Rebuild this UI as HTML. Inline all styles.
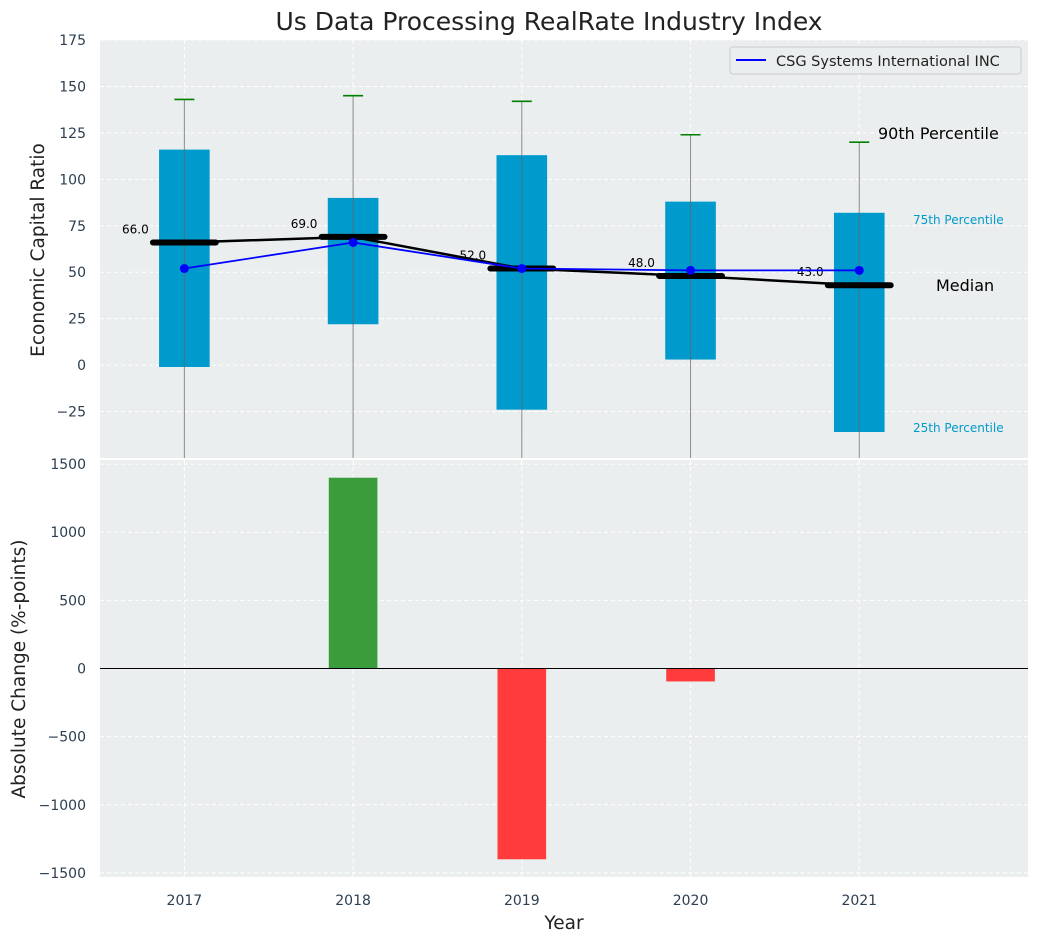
<!DOCTYPE html>
<html><head><meta charset="utf-8"><style>
body{margin:0;background:#fff;font-family:"Liberation Sans","DejaVu Sans",sans-serif}
</style></head><body>
<svg id="chart" width="1039" height="942" xmlns="http://www.w3.org/2000/svg" font-family="DejaVu Sans, Liberation Sans, sans-serif"></svg>
<script>
const years=[2017,2018,2019,2020,2021];
const p25=[-1,22,-24,3,-36];
const p75=[116,90,113,88,82];
const p90=[143,145,142,124,120];
const p10=[-80,-80,-80,-80,-80];
const medians=[66,69,52,48,43];
const company=[52,66,52,51,51];
const changes=[0,1400,-1400,-95,0];
const topTicks=[175,150,125,100,75,50,25,0,-25];
const botTicks=[1500,1000,500,0,-500,-1000,-1500];

const svg=document.getElementById('chart');
const NS='http://www.w3.org/2000/svg';
function el(t,a,txt){const e=document.createElementNS(NS,t);for(const k in a)e.setAttribute(k,a[k]);if(txt!==undefined)e.textContent=txt;svg.appendChild(e);return e;}
const L=100,R=1028;
const xs=v=>L+(v-2016.5)/(5.5)*(R-L);
const T0=40,T1=458, yt=v=>T1-(v+50)/225*(T1-T0);
const B0=460,B1=877, yb=v=>B1-(v+1530)/3060*(B1-B0);

let e=el('text',{x:549,y:30,'text-anchor':'middle','font-size':25,fill:'#222'},'Us Data Processing RealRate Industry Index');

e=el('rect',{x:L,y:T0,width:R-L,height:T1-T0,fill:'#eaeeee'});
e=el('rect',{x:L,y:B0,width:R-L,height:B1-B0,fill:'#eaeeee'});
topTicks.forEach(t=>{const y=yt(t);el('line',{x1:L,x2:R,y1:y,y2:y,stroke:'#fff','stroke-dasharray':'4,3','stroke-width':1});
 e=el('text',{x:L-14,y:y+5,'text-anchor':'end','font-size':14,fill:'#2c3e50'},String(t).replace('-','−'));});
botTicks.forEach(t=>{const y=yb(t);el('line',{x1:L,x2:R,y1:y,y2:y,stroke:'#fff','stroke-dasharray':'4,3','stroke-width':1});
 e=el('text',{x:L-14,y:y+5,'text-anchor':'end','font-size':14,fill:'#2c3e50'},String(t).replace('-','−'));});
years.forEach(yr=>{const x=xs(yr);el('line',{x1:x,x2:x,y1:T0,y2:T1,stroke:'#fff','stroke-dasharray':'4,3'});el('line',{x1:x,x2:x,y1:B0,y2:B1,stroke:'#fff','stroke-dasharray':'4,3'});
 e=el('text',{x:x,y:905,'text-anchor':'middle','font-size':14,fill:'#2c3e50'},yr);});
const bw=(R-L)/5.5*0.3;
years.forEach((yr,i)=>{const x=xs(yr);
 e=el('rect',{x:x-bw/2,y:yt(p75[i]),width:bw,height:yt(p25[i])-yt(p75[i]),fill:'#009ACD'});
 e=el('line',{x1:x,x2:x,y1:yt(p90[i]),y2:Math.min(T1,yt(p10[i])),stroke:'#666','stroke-width':1,'stroke-opacity':0.75});
 e=el('line',{x1:x-10,x2:x+10,y1:yt(p90[i]),y2:yt(p90[i]),stroke:'green','stroke-width':1.6});
});
const mw=(R-L)/5.5*0.42;
e=el('polyline',{points:years.map((y,i)=>xs(y)+','+yt(medians[i])).join(' '),fill:'none',stroke:'#000','stroke-width':2.5});
years.forEach((yr,i)=>{const x=xs(yr),y=yt(medians[i]);
 e=el('line',{x1:x-mw/2+4,x2:x+mw/2-4,y1:y,y2:y,stroke:'#000','stroke-width':6,'stroke-linecap':'round'});
 e=el('text',{x:x-49,y:y-9,'text-anchor':'middle','font-size':12,fill:'#000'},medians[i].toFixed(1));
});
e=el('polyline',{points:years.map((y,i)=>xs(y)+','+yt(company[i])).join(' '),fill:'none',stroke:'blue','stroke-width':1.8});
years.forEach((yr,i)=>{e=el('circle',{cx:xs(yr),cy:yt(company[i]),r:4.5,fill:'blue'});});
e=el('text',{x:878,y:139,'font-size':16,fill:'#000'},'90th Percentile');
e=el('text',{x:913,y:224,'font-size':12,fill:'#009ACD'},'75th Percentile');
e=el('text',{x:936,y:291,'font-size':16,fill:'#000'},'Median');
e=el('text',{x:913,y:432,'font-size':12,fill:'#009ACD'},'25th Percentile');
e=el('rect',{x:730,y:47,width:291,height:27,fill:'#eaeeee',stroke:'#ccc',rx:3});
el('line',{x1:736,x2:766,y1:60,y2:60,stroke:'blue','stroke-width':2});
e=el('text',{x:776,y:66,'font-size':14.5,fill:'#222'},'CSG Systems International INC');
years.forEach((yr,i)=>{const v=changes[i];if(v===0)return;const x=xs(yr);
 e=el('rect',{x:x-bw/2+1,y:Math.min(yb(v),yb(0)),width:bw-2,height:Math.abs(yb(v)-yb(0)),fill:v>0?'#3a9c3a':'#ff3b3b'});});
e=el('line',{x1:L,x2:R,y1:yb(0),y2:yb(0),stroke:'#000','stroke-width':1});
e=el('text',{x:44,y:250,'text-anchor':'middle','font-size':18.5,fill:'#222',transform:'rotate(-90 44 250)'},'Economic Capital Ratio');
e=el('text',{x:25,y:669,'text-anchor':'middle','font-size':18.5,fill:'#222',transform:'rotate(-90 25 669)'},'Absolute Change (%-points)');
e=el('text',{x:564,y:929,'text-anchor':'middle','font-size':18.5,fill:'#222'},'Year');
</script>
</body></html>
